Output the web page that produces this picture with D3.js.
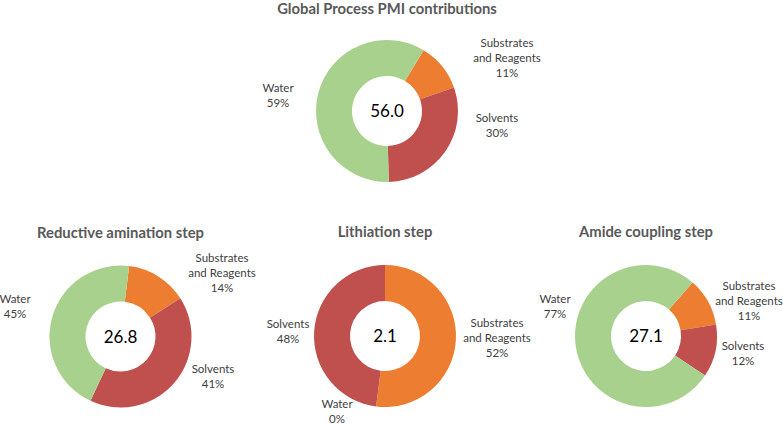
<!DOCTYPE html>
<html>
<head>
<meta charset="utf-8">
<script src="https://cdn.jsdelivr.net/npm/d3@7"></script>
<style>
  body { margin: 0; background: #fff; }
  svg { display: block; font-family: Lato, "Open Sans", sans-serif; }
</style>
</head>
<body>
<svg id="chart" width="783" height="426"></svg>
<script>
// data
const titles = ["Global Process PMI contributions", "Reductive amination step", "Lithiation step", "Amide coupling step"];
const pmiTotals = ["56.0", "26.8", "2.1", "27.1"];
const categories = ["Substrates and Reagents", "Solvents", "Water"];
const substrates = [11, 14, 52, 11];
const solvents = [30, 41, 48, 12];
const water = [59, 45, 0, 77];

const svg = d3.select("#chart");

const color = d3.scaleOrdinal()
  .domain(categories)
  .range(["#ED7D31", "#C0504D", "#A9D18E"]);

// layout: doughnut centres, first slice angle (deg), label offsets from centre
const layout = [
  { cx: 387, cy: 111, start: 31, labels: [[120, -64], [110, 11], [-109, -19]] },
  { cx: 120.5, cy: 336.5, start: 7, labels: [[101.5, -74.5], [92.5, 36.5], [-105.5, -33.5]] },
  { cx: 385, cy: 336, start: 0, labels: [[112, -9], [-97, -8], [-48, 72]] },
  { cx: 646, cy: 336, start: 41, labels: [[103, -46], [97, 14], [-91, -33]] },
];
const titleY = [13.5, 238, 237, 237];

const outerR = 71, innerR = 35;
const arc = d3.arc().innerRadius(innerR).outerRadius(outerR);

titles.forEach(function (title, i) {
  const l = layout[i];
  const values = [substrates[i], solvents[i], water[i]];
  const start = l.start * Math.PI / 180;
  const pie = d3.pie().sort(null)
    .startAngle(start)
    .endAngle(start + 2 * Math.PI);

  svg.append("text")
    .attr("x", l.cx)
    .attr("y", titleY[i])
    .attr("text-anchor", "middle")
    .attr("font-size", "14.8px")
    .attr("font-weight", "bold")
    .attr("fill", "#595959")
    .text(title);

  const g = svg.append("g").attr("transform", "translate(" + l.cx + "," + l.cy + ")");

  g.selectAll("path")
    .data(pie(values))
    .join("path")
    .attr("d", arc)
    .attr("fill", function (d, k) { return color(categories[k]); });

  g.append("text")
    .attr("text-anchor", "middle")
    .attr("dy", "0.36em")
    .attr("font-size", "17px")
    .attr("fill", "#000")
    .text(pmiTotals[i]);

  categories.forEach(function (cat, k) {
    const lines = cat == "Substrates and Reagents" ? ["Substrates", "and Reagents"] : [cat];
    lines.push(values[k] + "%");
    const t = g.append("text")
      .attr("text-anchor", "middle")
      .attr("font-size", "11.5px")
      .attr("fill", "#404040");
    lines.forEach(function (line, j) {
      t.append("tspan")
        .attr("x", l.labels[k][0])
        .attr("y", l.labels[k][1] + j * 15)
        .text(line);
    });
  });
});
</script>
</body>
</html>
